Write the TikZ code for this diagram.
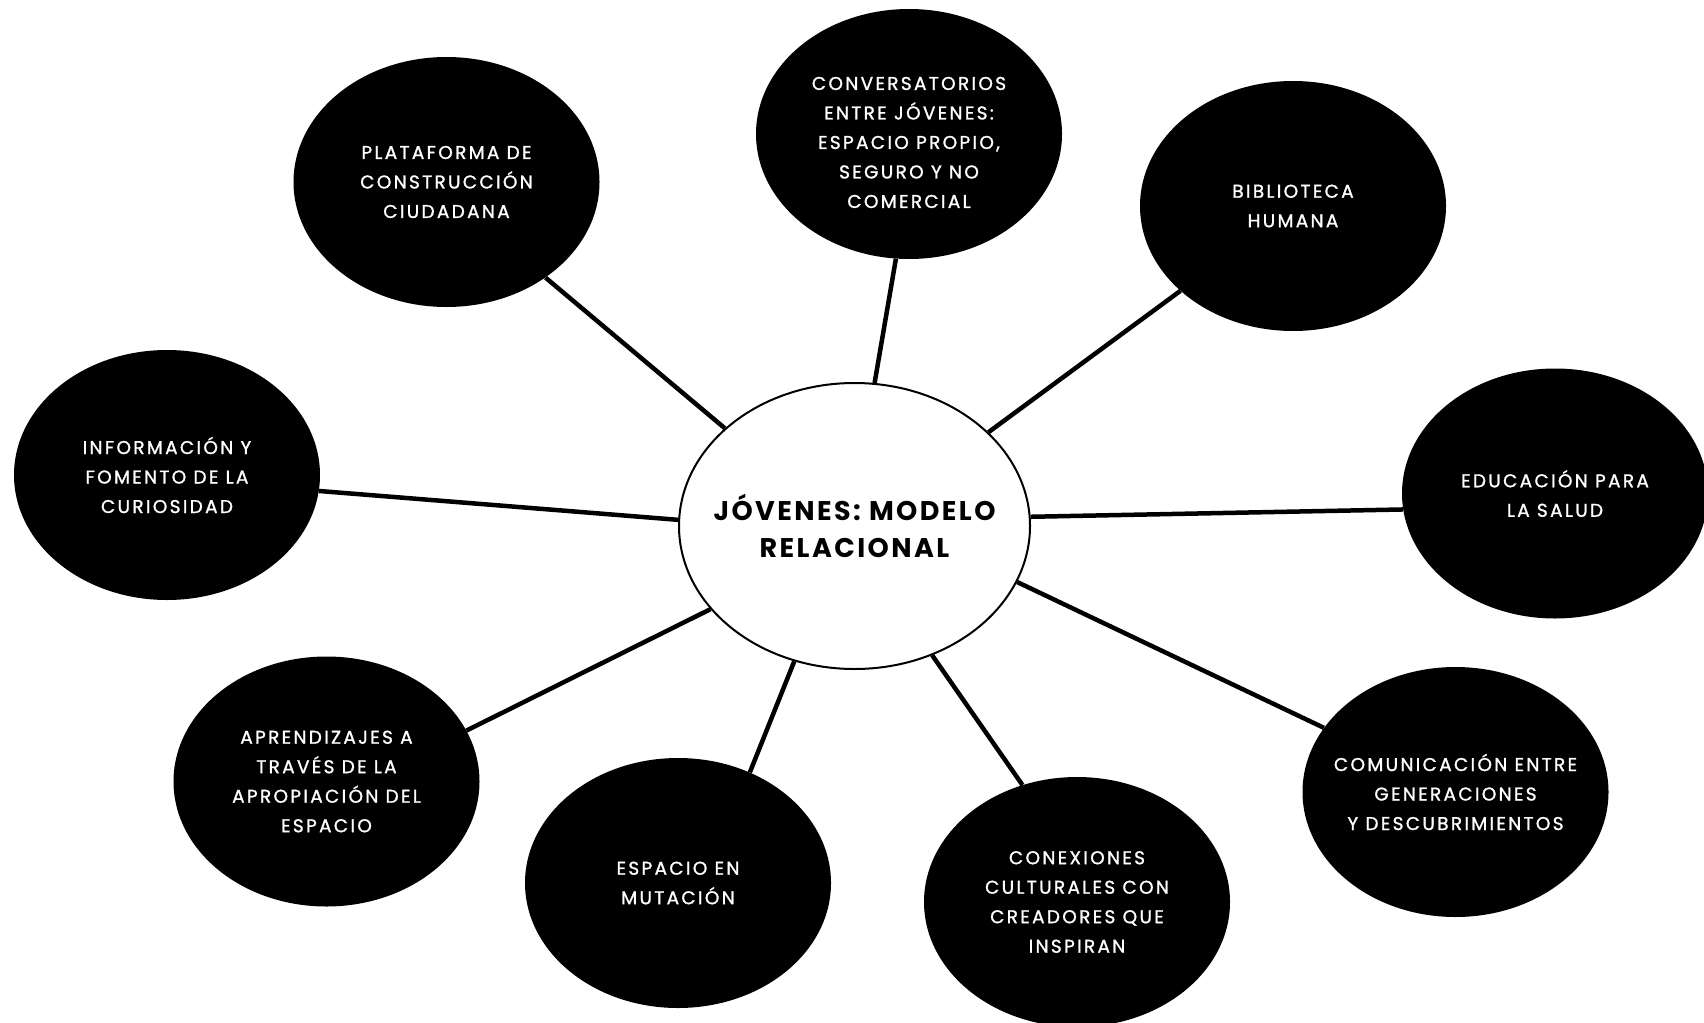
\documentclass[tikz,border=0pt]{standalone}
\usepackage{fontspec}
\setmainfont{Poppins}
\newfontfamily\ideafont{Poppins}[LetterSpace=12.5,FakeBold=1.2]
\newfontfamily\hubfont{Poppins}[LetterSpace=9]
\usetikzlibrary{shapes.geometric}

\begin{document}
\begin{tikzpicture}[x=1pt,y=-1pt,
    idea/.style={ellipse, fill=black, text=white, inner ysep=0pt, inner xsep=-30pt,
      minimum width=306pt, minimum height=250pt, align=center,
      font=\ideafont\fontsize{18.5}{29.5}\selectfont},
    hub/.style={ellipse, draw=black, line width=2pt, fill=white, inner ysep=0pt, inner xsep=-30pt,
      minimum width=351pt, minimum height=286pt, align=center,
      font=\hubfont\fontsize{27}{37}\selectfont\bfseries},
    spoke/.style={line width=4.5pt}]
      \useasboundingbox (0,0) rectangle (1704,1022);

      % centre
      \node[hub] (joven) at (854.5,526) {JÓVENES: MODELO\\RELACIONAL};

      % ring of ideas
      \node[idea] (plataforma) at (446.5,182) {PLATAFORMA DE\\CONSTRUCCIÓN\\CIUDADANA};
      \node[idea] (conversa) at (909,134) {\rule{0pt}{30pt}CONVERSATORIOS\\ENTRE JÓVENES:\\ESPACIO PROPIO,\\SEGURO Y NO\\COMERCIAL};
      \node[idea] (biblioteca) at (1293,206) {BIBLIOTECA\\HUMANA};
      \node[idea] (educacion) at (1555,493.5) {EDUCACIÓN PARA\\LA SALUD};
      \node[idea] (comunica) at (1455.5,792) {COMUNICACIÓN ENTRE\\GENERACIONES\\Y DESCUBRIMIENTOS};
      \node[idea] (conexiones) at (1077,902) {CONEXIONES\\CULTURALES CON\\CREADORES QUE\\INSPIRAN};
      \node[idea] (mutacion) at (678,883) {ESPACIO EN\\MUTACIÓN};
      \node[idea] (aprendizajes) at (326.5,781.5) {APRENDIZAJES A\\TRAVÉS DE LA\\APROPIACIÓN DEL\\ESPACIO};
      \node[idea] (informacion) at (167,475) {INFORMACIÓN Y\\FOMENTO DE LA\\CURIOSIDAD};

      % spokes
      \draw[spoke] (joven.143) -- (plataforma.316);
      \draw[spoke] (joven.82) -- (conversa.264);
      \draw[spoke] (joven.35) -- (biblioteca.217);
      \draw[spoke] (joven.3) -- (educacion.186);
      \draw[spoke] (joven.341) -- (comunica.154);
      \draw[spoke] (joven.301) -- (conexiones.115);
      \draw[spoke] (joven.246) -- (mutacion.57);
      \draw[spoke] (joven.210) -- (aprendizajes.20);
      \draw[spoke] (joven.178) -- (informacion.354);
    \end{tikzpicture}
\end{document}
